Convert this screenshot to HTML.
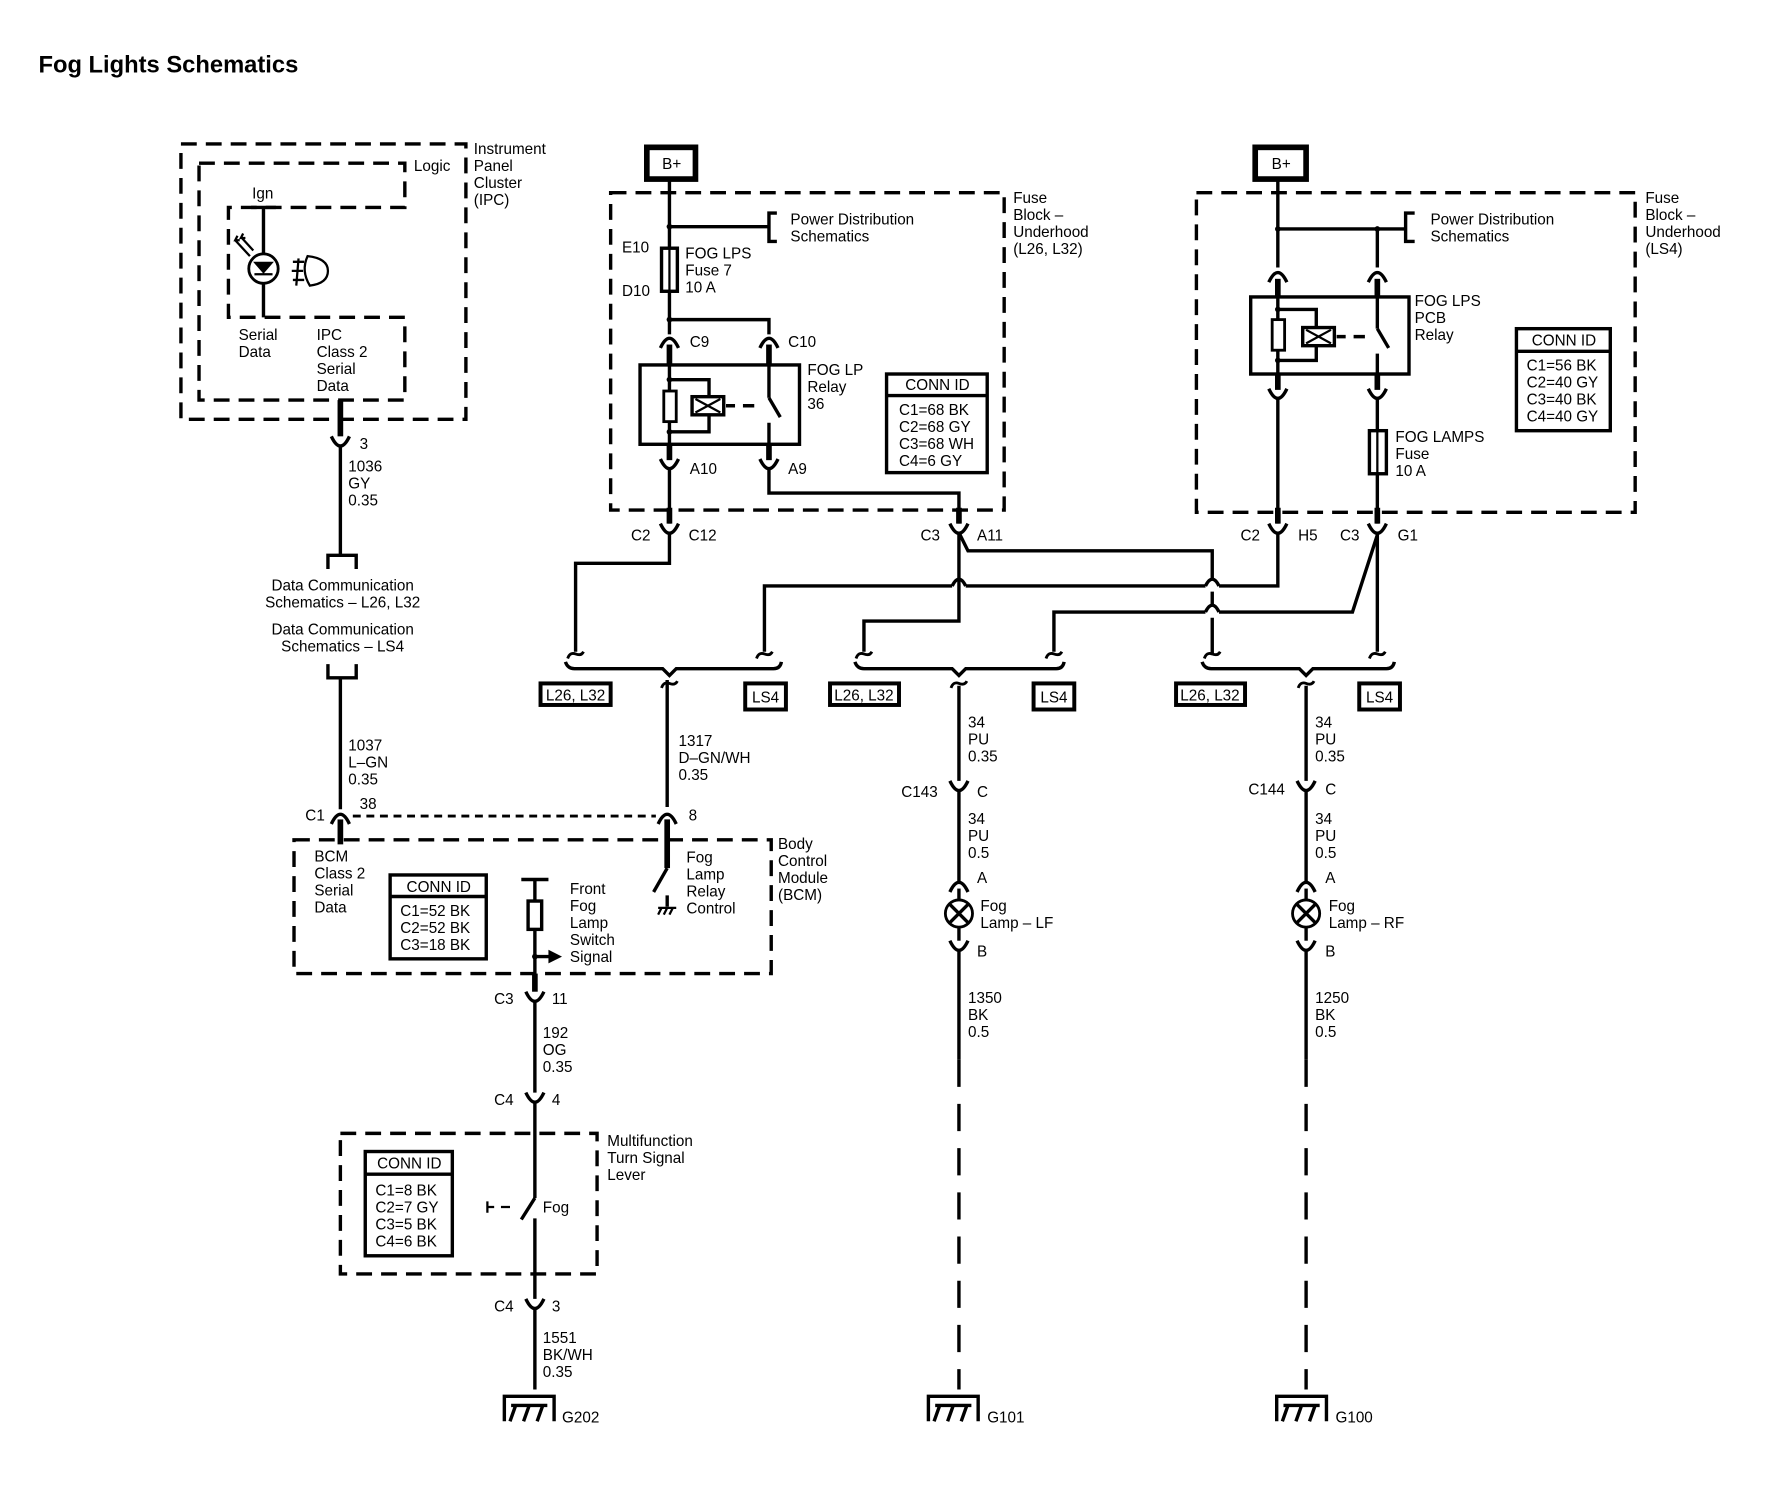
<!DOCTYPE html>
<html><head><meta charset="utf-8"><style>
html,body{margin:0;padding:0;background:#fff;}
svg{display:block;}
text{font-family:"Liberation Sans",sans-serif;font-size:13.5px;fill:#000;}
.b{font-weight:bold;}
.w{fill:none;stroke:#000;stroke-width:3;}
.t{fill:none;stroke:#000;stroke-width:2;}
.d{fill:none;stroke:#000;stroke-width:3;stroke-dasharray:14 8;}
.k{fill:none;stroke:#000;stroke-width:5;}
</style></head><body>
<svg width="1772" height="1504" viewBox="0 0 1567 1327" preserveAspectRatio="none" xmlns="http://www.w3.org/2000/svg">
<defs>
<path id="fem" d="M-8,-7 Q0,10 8,-7" fill="none" stroke="#000" stroke-width="3"/>
<path id="mal" d="M-8,7 Q0,-10 8,7" fill="none" stroke="#000" stroke-width="3"/>
<path id="tilde" d="M-7,3 Q-5,-3 0,-1 Q5,1 7,-3" fill="none" stroke="#000" stroke-width="2.5"/>
<g id="gnd"><path d="M-22,22 V0 H22 V22" fill="none" stroke="#000" stroke-width="3"/><path d="M-16,8 H16 M-12,8 L-17,22 M0,8 L-5,22 M12,8 L7,22" fill="none" stroke="#000" stroke-width="3"/></g>
</defs>

<text x="34" y="64" class="b" style="font-size:21px">Fog Lights Schematics</text>

<!-- IPC -->
<rect x="160" y="127" width="252" height="243" class="d"/>
<path d="M176,144 H358 V183 H202 V280 H358 V353 H176 Z" class="d"/>
<line x1="233" y1="183" x2="233" y2="280" class="w"/>
<line x1="222" y1="183" x2="244" y2="183" class="w"/>
<circle cx="233" cy="237" r="13" fill="#fff" stroke="#000" stroke-width="2.5"/>
<path d="M226,232 H240 L233,240 Z M225,242 H241" fill="#000" stroke="#000" stroke-width="2"/>
<path d="M208,212 L221,226 M213,209 L224,221 M210,208 l-2,4 4,0 M215,206 l-2,4 4,0" class="t" stroke-width="1.5"/>
<path d="M272,226 Q266,239 274,252 Q290,250 290,239 Q290,228 272,226 Z" fill="none" stroke="#000" stroke-width="2"/>
<path d="M259,231 h10 M258,239 h10 M259,247 h10 M264,228 L262,252" class="t" stroke-width="1.5"/>
<text x="223" y="175">Ign</text>
<text x="211" y="300">Serial</text><text x="211" y="315">Data</text>
<text x="280" y="300">IPC</text><text x="280" y="315">Class 2</text><text x="280" y="330">Serial</text><text x="280" y="345">Data</text>
<text x="366" y="151">Logic</text>
<text x="419" y="136">Instrument</text><text x="419" y="151">Panel</text><text x="419" y="166">Cluster</text><text x="419" y="181">(IPC)</text>

<line x1="301" y1="353" x2="301" y2="385" class="k"/>
<use href="#fem" x="301" y="392"/>
<text x="318" y="396">3</text>
<line x1="301" y1="393" x2="301" y2="490" class="w"/>
<text x="308" y="416">1036</text><text x="308" y="431">GY</text><text x="308" y="446">0.35</text>
<path d="M290,502 V490 H315 V502" class="w"/>
<text x="303" y="521" text-anchor="middle">Data Communication</text>
<text x="303" y="536" text-anchor="middle">Schematics – L26, L32</text>
<text x="303" y="560" text-anchor="middle">Data Communication</text>
<text x="303" y="575" text-anchor="middle">Schematics – LS4</text>
<path d="M290,586 V598 H315 V586" class="w"/>
<line x1="301" y1="598" x2="301" y2="714" class="w"/>
<text x="308" y="662">1037</text><text x="308" y="677">L–GN</text><text x="308" y="692">0.35</text>
<use href="#mal" x="301" y="720"/>
<text x="270" y="724">C1</text><text x="318" y="714">38</text>
<line x1="312" y1="720" x2="580" y2="720" stroke="#000" stroke-width="2.5" stroke-dasharray="7 5"/>
<line x1="301" y1="723" x2="301" y2="745" class="k"/>

<!-- BCM -->
<rect x="260" y="741" width="422" height="118" class="d"/>
<text x="278" y="760">BCM</text><text x="278" y="775">Class 2</text><text x="278" y="790">Serial</text><text x="278" y="805">Data</text>
<rect x="345" y="772" width="85" height="74" class="w"/>
<line x1="345" y1="791" x2="430" y2="791" class="w"/>
<text x="388" y="787" text-anchor="middle">CONN ID</text>
<text x="354" y="808">C1=52 BK</text><text x="354" y="823">C2=52 BK</text><text x="354" y="838">C3=18 BK</text>
<text x="688" y="749">Body</text><text x="688" y="764">Control</text><text x="688" y="779">Module</text><text x="688" y="794">(BCM)</text>
<line x1="461" y1="776" x2="485" y2="776" class="w"/>
<line x1="473" y1="776" x2="473" y2="795" class="w"/>
<rect x="467" y="795" width="12" height="25" class="w"/>
<line x1="473" y1="820" x2="473" y2="870" class="w"/>
<circle cx="473" cy="844" r="2.5"/>
<line x1="473" y1="844" x2="487" y2="844" class="w"/>
<path d="M485,838 L497,844 L485,850 Z"/>
<text x="504" y="789">Front</text><text x="504" y="804">Fog</text><text x="504" y="819">Lamp</text><text x="504" y="834">Switch</text><text x="504" y="849">Signal</text>
<use href="#mal" x="590" y="720"/>
<text x="609" y="724">8</text>
<line x1="590" y1="600" x2="590" y2="712" class="w"/>
<line x1="590" y1="723" x2="590" y2="766" class="k"/>
<line x1="590" y1="766" x2="578" y2="787" class="w"/>
<line x1="590" y1="790" x2="590" y2="800" class="w"/>
<path d="M582,801 H598 M585,801 L582,807 M590,801 L587,807 M595,801 L592,807" class="t"/>
<text x="607" y="761">Fog</text><text x="607" y="776">Lamp</text><text x="607" y="791">Relay</text><text x="607" y="806">Control</text>
<line x1="473" y1="859" x2="473" y2="875" class="k"/>
<use href="#fem" x="473" y="882"/>
<text x="437" y="886">C3</text><text x="488" y="886">11</text>
<line x1="473" y1="883" x2="473" y2="964" class="w"/>
<text x="480" y="916">192</text><text x="480" y="931">OG</text><text x="480" y="946">0.35</text>
<use href="#fem" x="473" y="971"/>
<text x="437" y="975">C4</text><text x="488" y="975">4</text>
<line x1="473" y1="972" x2="473" y2="1057" class="w"/>

<!-- Multifunction -->
<rect x="301" y="1000" width="227" height="124" class="d"/>
<rect x="323" y="1016" width="77" height="92" class="w"/>
<line x1="323" y1="1036" x2="400" y2="1036" class="w"/>
<text x="362" y="1031" text-anchor="middle">CONN ID</text>
<text x="332" y="1055">C1=8 BK</text><text x="332" y="1070">C2=7 GY</text><text x="332" y="1085">C3=5 BK</text><text x="332" y="1100">C4=6 BK</text>
<text x="537" y="1011">Multifunction</text><text x="537" y="1026">Turn Signal</text><text x="537" y="1041">Lever</text>
<path d="M431,1060 V1070 M431,1065 H437 M443,1065 H451" class="t"/>
<line x1="473" y1="1057" x2="461" y2="1076" class="w"/>
<line x1="473" y1="1075" x2="473" y2="1146" class="w"/>
<text x="480" y="1070">Fog</text>
<use href="#fem" x="473" y="1153"/>
<text x="437" y="1157">C4</text><text x="488" y="1157">3</text>
<line x1="473" y1="1154" x2="473" y2="1226" class="w"/>
<text x="480" y="1185">1551</text><text x="480" y="1200">BK/WH</text><text x="480" y="1215">0.35</text>
<use href="#gnd" x="468" y="1232"/>
<text x="497" y="1255">G202</text>

<!-- Middle fuse block -->
<rect x="572" y="130" width="43" height="28" fill="none" stroke="#000" stroke-width="5"/>
<text x="594" y="149" text-anchor="middle">B+</text>
<rect x="540" y="170" width="348" height="280" class="d"/>
<line x1="592" y1="158" x2="592" y2="218" class="w"/>
<circle cx="592" cy="200" r="2.5"/>
<line x1="592" y1="200" x2="680" y2="200" class="w"/>
<path d="M687,188 H680 V213 H687" class="w"/>
<text x="699" y="198">Power Distribution</text><text x="699" y="213">Schematics</text>
<rect x="585" y="219" width="14" height="38" class="w"/>
<line x1="592" y1="219" x2="592" y2="257" class="t"/>
<text x="550" y="223">E10</text><text x="550" y="261">D10</text>
<text x="606" y="228">FOG LPS</text><text x="606" y="243">Fuse 7</text><text x="606" y="258">10 A</text>
<line x1="592" y1="257" x2="592" y2="295" class="w"/>
<circle cx="592" cy="282" r="2.5"/>
<path d="M592,282 H680 V295" class="w"/>
<use href="#mal" x="592" y="300"/><use href="#mal" x="680" y="300"/>
<text x="610" y="306">C9</text><text x="697" y="306">C10</text>
<line x1="592" y1="304" x2="592" y2="322" class="k"/>
<line x1="680" y1="304" x2="680" y2="322" class="k"/>
<rect x="566" y="322" width="141" height="70" class="w"/>
<line x1="592" y1="322" x2="592" y2="392" class="w"/>
<rect x="587" y="345" width="11" height="27" fill="#fff" stroke="#000" stroke-width="2.5"/>
<circle cx="592" cy="335" r="2.5"/><circle cx="592" cy="381" r="2.5"/>
<path d="M592,335 H627 V350 M627,366 V381 H592" class="w"/>
<rect x="612" y="350" width="28" height="16" fill="#fff" stroke="#000" stroke-width="3"/>
<path d="M615,352 L637,364 M615,364 L637,352" class="t"/>
<path d="M642,358 H650 M657,358 H667" class="w"/>
<line x1="680" y1="322" x2="680" y2="351" class="w"/>
<line x1="680" y1="351" x2="690" y2="368" class="w"/>
<line x1="680" y1="373" x2="680" y2="392" class="w"/>
<text x="714" y="331">FOG LP</text><text x="714" y="346">Relay</text><text x="714" y="361">36</text>
<rect x="784" y="330" width="89" height="87" class="w"/>
<line x1="784" y1="349" x2="873" y2="349" class="w"/>
<text x="829" y="344" text-anchor="middle">CONN ID</text>
<text x="795" y="366">C1=68 BK</text><text x="795" y="381">C2=68 GY</text><text x="795" y="396">C3=68 WH</text><text x="795" y="411">C4=6 GY</text>
<text x="896" y="179">Fuse</text><text x="896" y="194">Block –</text><text x="896" y="209">Underhood</text><text x="896" y="224">(L26, L32)</text>
<line x1="592" y1="392" x2="592" y2="406" class="k"/>
<line x1="680" y1="392" x2="680" y2="406" class="k"/>
<use href="#fem" x="592" y="412"/><use href="#fem" x="680" y="412"/>
<text x="610" y="418">A10</text><text x="697" y="418">A9</text>
<line x1="592" y1="413" x2="592" y2="462" class="w"/>
<path d="M680,413 V435 H848 V462" class="w"/>
<line x1="592" y1="448" x2="592" y2="462" class="k"/>
<line x1="848" y1="448" x2="848" y2="462" class="k"/>
<use href="#fem" x="592" y="469"/><use href="#fem" x="848" y="469"/>
<text x="558" y="477">C2</text><text x="609" y="477">C12</text>
<text x="814" y="477">C3</text><text x="864" y="477">A11</text>

<!-- Right fuse block -->
<rect x="1110" y="130" width="45" height="28" fill="none" stroke="#000" stroke-width="5"/>
<text x="1133" y="149" text-anchor="middle">B+</text>
<rect x="1058" y="170" width="388" height="282" class="d"/>
<line x1="1130" y1="158" x2="1130" y2="236" class="w"/>
<circle cx="1130" cy="202" r="2.5"/><circle cx="1218" cy="202" r="2.5"/>
<line x1="1130" y1="202" x2="1243" y2="202" class="w"/>
<line x1="1218" y1="202" x2="1218" y2="236" class="w"/>
<path d="M1251,188 H1243 V213 H1251" class="w"/>
<text x="1265" y="198">Power Distribution</text><text x="1265" y="213">Schematics</text>
<use href="#mal" x="1130" y="242"/><use href="#mal" x="1218" y="242"/>
<line x1="1130" y1="246" x2="1130" y2="262" class="k"/>
<line x1="1218" y1="246" x2="1218" y2="262" class="k"/>
<rect x="1106" y="262" width="140" height="68" class="w"/>
<line x1="1130" y1="262" x2="1130" y2="330" class="w"/>
<rect x="1125" y="282" width="11" height="27" fill="#fff" stroke="#000" stroke-width="2.5"/>
<circle cx="1130" cy="273" r="2.5"/><circle cx="1130" cy="318" r="2.5"/>
<path d="M1130,273 H1164 V289 M1164,305 V318 H1130" class="w"/>
<rect x="1152" y="289" width="28" height="16" fill="#fff" stroke="#000" stroke-width="3"/>
<path d="M1155,291 L1177,303 M1155,303 L1177,291" class="t"/>
<path d="M1182,297 H1190 M1197,297 H1207" class="w"/>
<line x1="1218" y1="262" x2="1218" y2="290" class="w"/>
<line x1="1218" y1="290" x2="1228" y2="307" class="w"/>
<line x1="1218" y1="312" x2="1218" y2="330" class="w"/>
<text x="1251" y="270">FOG LPS</text><text x="1251" y="285">PCB</text><text x="1251" y="300">Relay</text>
<line x1="1130" y1="330" x2="1130" y2="344" class="k"/>
<line x1="1218" y1="330" x2="1218" y2="344" class="k"/>
<use href="#fem" x="1130" y="350"/><use href="#fem" x="1218" y="350"/>
<line x1="1130" y1="351" x2="1130" y2="462" class="w"/>
<line x1="1218" y1="351" x2="1218" y2="380" class="w"/>
<rect x="1211" y="380" width="15" height="38" class="w"/>
<line x1="1218" y1="380" x2="1218" y2="418" class="t"/>
<line x1="1218" y1="418" x2="1218" y2="462" class="w"/>
<text x="1234" y="390">FOG LAMPS</text><text x="1234" y="405">Fuse</text><text x="1234" y="420">10 A</text>
<rect x="1341" y="290" width="83" height="90" class="w"/>
<line x1="1341" y1="310" x2="1424" y2="310" class="w"/>
<text x="1383" y="305" text-anchor="middle">CONN ID</text>
<text x="1350" y="327">C1=56 BK</text><text x="1350" y="342">C2=40 GY</text><text x="1350" y="357">C3=40 BK</text><text x="1350" y="372">C4=40 GY</text>
<text x="1455" y="179">Fuse</text><text x="1455" y="194">Block –</text><text x="1455" y="209">Underhood</text><text x="1455" y="224">(LS4)</text>
<line x1="1130" y1="448" x2="1130" y2="462" class="k"/>
<line x1="1218" y1="448" x2="1218" y2="462" class="k"/>
<use href="#fem" x="1130" y="469"/><use href="#fem" x="1218" y="469"/>
<text x="1097" y="477">C2</text><text x="1148" y="477">H5</text>
<text x="1185" y="477">C3</text><text x="1236" y="477">G1</text>

<!-- crossing wires -->
<path d="M592,470 V497 H509 V575" class="w"/>
<path d="M848,470 V548 H764 V575" class="w"/>
<path d="M848,470 L856,486 H1072 V512 M1072,522 V535 M1072,545 V578" class="w"/>
<path d="M676,575 V517 H842 M854,517 H1066 M1078,517 H1130 V470" class="w"/>
<path d="M842,517 Q848,505 854,517 M1066,517 Q1072,505 1078,517 M1066,540 Q1072,528 1078,540" class="w"/>
<path d="M932,575 V540 H1066 M1078,540 H1196 L1218,472" class="w"/>
<line x1="1218" y1="470" x2="1218" y2="575" class="w"/>
<use href="#tilde" x="509" y="578"/><use href="#tilde" x="676" y="578"/>
<use href="#tilde" x="764" y="578"/><use href="#tilde" x="932" y="578"/>
<use href="#tilde" x="1072" y="578"/><use href="#tilde" x="1218" y="578"/>

<!-- braces -->
<path d="M500,584 Q502,590 508,590 H586 L592,596 L598,590 H684 Q690,590 691,584" class="w"/>
<path d="M756,584 Q758,590 764,590 H842 L848,596 L854,590 H934 Q940,590 941,584" class="w"/>
<path d="M1063,584 Q1065,590 1071,590 H1149 L1155,596 L1161,590 H1226 Q1232,590 1233,584" class="w"/>
<use href="#tilde" x="592" y="604"/><use href="#tilde" x="848" y="604"/><use href="#tilde" x="1155" y="604"/>
<g class="w">
<rect x="478" y="603" width="62" height="19" stroke-width="3.5"/><rect x="659" y="603" width="36" height="23" stroke-width="3.5"/>
<rect x="734" y="603" width="61" height="19" stroke-width="3.5"/><rect x="914" y="603" width="36" height="23" stroke-width="3.5"/>
<rect x="1040" y="603" width="61" height="19" stroke-width="3.5"/><rect x="1202" y="603" width="36" height="23" stroke-width="3.5"/>
</g>
<text x="509" y="618" text-anchor="middle">L26, L32</text><text x="677" y="620" text-anchor="middle">LS4</text>
<text x="764" y="618" text-anchor="middle">L26, L32</text><text x="932" y="620" text-anchor="middle">LS4</text>
<text x="1070" y="618" text-anchor="middle">L26, L32</text><text x="1220" y="620" text-anchor="middle">LS4</text>

<text x="600" y="658">1317</text><text x="600" y="673">D–GN/WH</text><text x="600" y="688">0.35</text>

<!-- LF lamp -->
<line x1="848" y1="605" x2="848" y2="689" class="w"/>
<text x="856" y="642">34</text><text x="856" y="657">PU</text><text x="856" y="672">0.35</text>
<use href="#fem" x="848" y="696"/>
<text x="797" y="703">C143</text><text x="864" y="703">C</text>
<line x1="848" y1="697" x2="848" y2="778" class="w"/>
<text x="856" y="727">34</text><text x="856" y="742">PU</text><text x="856" y="757">0.5</text>
<use href="#mal" x="848" y="780"/>
<text x="864" y="779">A</text>
<line x1="848" y1="784" x2="848" y2="830" class="w"/>
<circle cx="848" cy="806" r="12" fill="#fff" stroke="#000" stroke-width="2.5"/>
<path d="M840,798 L856,814 M856,798 L840,814" class="w"/>
<text x="867" y="804">Fog</text><text x="867" y="819">Lamp – LF</text>
<use href="#fem" x="848" y="837"/>
<text x="864" y="844">B</text>
<line x1="848" y1="838" x2="848" y2="935" class="w"/>
<text x="856" y="885">1350</text><text x="856" y="900">BK</text><text x="856" y="915">0.5</text>
<line x1="848" y1="935" x2="848" y2="1226" class="w" stroke-dasharray="24 15"/>
<use href="#gnd" x="843" y="1232"/>
<text x="873" y="1255">G101</text>

<!-- RF lamp -->
<line x1="1155" y1="605" x2="1155" y2="689" class="w"/>
<text x="1163" y="642">34</text><text x="1163" y="657">PU</text><text x="1163" y="672">0.35</text>
<use href="#fem" x="1155" y="696"/>
<text x="1104" y="701">C144</text><text x="1172" y="701">C</text>
<line x1="1155" y1="697" x2="1155" y2="778" class="w"/>
<text x="1163" y="727">34</text><text x="1163" y="742">PU</text><text x="1163" y="757">0.5</text>
<use href="#mal" x="1155" y="780"/>
<text x="1172" y="779">A</text>
<line x1="1155" y1="784" x2="1155" y2="830" class="w"/>
<circle cx="1155" cy="806" r="12" fill="#fff" stroke="#000" stroke-width="2.5"/>
<path d="M1147,798 L1163,814 M1163,798 L1147,814" class="w"/>
<text x="1175" y="804">Fog</text><text x="1175" y="819">Lamp – RF</text>
<use href="#fem" x="1155" y="837"/>
<text x="1172" y="844">B</text>
<line x1="1155" y1="838" x2="1155" y2="935" class="w"/>
<text x="1163" y="885">1250</text><text x="1163" y="900">BK</text><text x="1163" y="915">0.5</text>
<line x1="1155" y1="935" x2="1155" y2="1226" class="w" stroke-dasharray="24 15"/>
<use href="#gnd" x="1151" y="1232"/>
<text x="1181" y="1255">G100</text>
</svg>
</body></html>
